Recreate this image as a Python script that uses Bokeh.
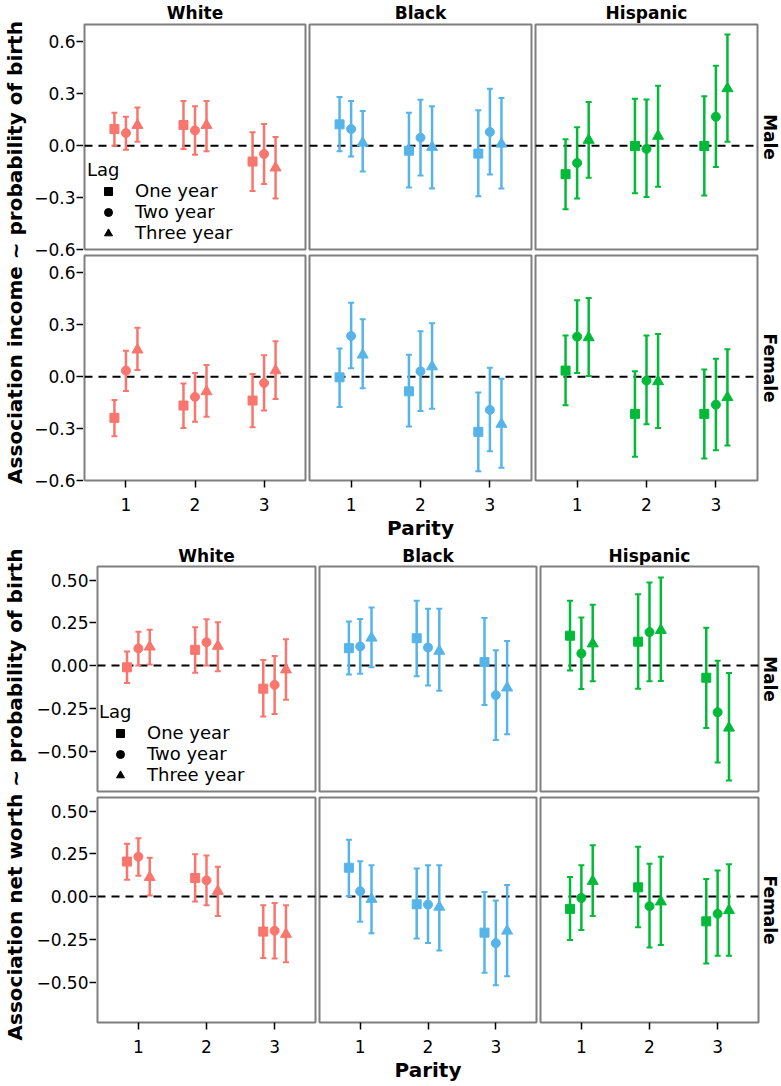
import math
from bokeh.plotting import figure
from bokeh.layouts import row, column
from bokeh.models import (Range1d, Span, Whisker, TeeHead, ColumnDataSource,
                          Legend, LegendItem, FixedTicker, Label, Spacer)
from bokeh.transform import dodge
from bokeh.embed import file_html
from bokeh.resources import INLINE

FONT = "DejaVu Sans"

# ---------------- data ----------------
PARITY = [1, 1, 1, 2, 2, 2, 3, 3, 3]
LAG = ["One year", "Two year", "Three year"] * 3
LAG_LEVELS = ["One year", "Two year", "Three year"]
RACES = ["White", "Black", "Hispanic"]
SEXES = ["Male", "Female"]

# Income ~ probability of birth (order: parity 1..3, lag one/two/three)
INC_MALE_WHITE_EST = [0.096, 0.073, 0.118, 0.119, 0.088, 0.118, -0.092, -0.048, -0.128]
INC_MALE_WHITE_LO = [0.000, -0.023, 0.023, -0.019, -0.052, -0.033, -0.262, -0.221, -0.306]
INC_MALE_WHITE_HI = [0.190, 0.167, 0.220, 0.258, 0.227, 0.258, 0.077, 0.125, 0.050]

INC_MALE_BLACK_EST = [0.123, 0.096, 0.016, -0.029, 0.046, -0.009, -0.046, 0.079, 0.010]
INC_MALE_BLACK_LO = [-0.033, -0.063, -0.150, -0.242, -0.173, -0.248, -0.292, -0.167, -0.248]
INC_MALE_BLACK_HI = [0.281, 0.258, 0.200, 0.190, 0.265, 0.227, 0.204, 0.329, 0.275]

INC_MALE_HISP_EST = [-0.165, -0.100, 0.032, -0.002, -0.019, 0.055, -0.002, 0.167, 0.330]
INC_MALE_HISP_LO = [-0.367, -0.306, -0.185, -0.275, -0.296, -0.238, -0.288, -0.123, 0.023]
INC_MALE_HISP_HI = [0.037, 0.106, 0.252, 0.271, 0.267, 0.346, 0.285, 0.462, 0.642]

INC_FEMALE_WHITE_EST = [-0.238, 0.035, 0.155, -0.167, -0.117, -0.086, -0.138, -0.037, 0.035]
INC_FEMALE_WHITE_LO = [-0.344, -0.083, 0.038, -0.296, -0.260, -0.231, -0.292, -0.196, -0.129]
INC_FEMALE_WHITE_HI = [-0.135, 0.150, 0.283, -0.040, 0.021, 0.067, 0.015, 0.123, 0.204]

INC_FEMALE_BLACK_EST = [-0.004, 0.235, 0.126, -0.085, 0.031, 0.058, -0.319, -0.192, -0.274]
INC_FEMALE_BLACK_LO = [-0.175, 0.048, -0.067, -0.288, -0.198, -0.185, -0.546, -0.431, -0.527]
INC_FEMALE_BLACK_HI = [0.163, 0.427, 0.331, 0.127, 0.262, 0.308, -0.092, 0.052, -0.012]

INC_FEMALE_HISP_EST = [0.035, 0.231, 0.226, -0.215, -0.023, -0.028, -0.215, -0.162, -0.120]
INC_FEMALE_HISP_LO = [-0.165, 0.021, 0.004, -0.463, -0.275, -0.296, -0.473, -0.425, -0.398]
INC_FEMALE_HISP_HI = [0.238, 0.442, 0.454, 0.031, 0.238, 0.246, 0.042, 0.104, 0.158]

# Net worth ~ probability of birth
NW_MALE_WHITE_EST = [-0.010, 0.100, 0.110, 0.092, 0.137, 0.114, -0.135, -0.113, -0.024]
NW_MALE_WHITE_LO = [-0.102, 0.000, 0.006, -0.042, 0.000, -0.033, -0.298, -0.283, -0.200]
NW_MALE_WHITE_HI = [0.083, 0.198, 0.210, 0.225, 0.271, 0.254, 0.033, 0.056, 0.154]

NW_MALE_BLACK_EST = [0.102, 0.112, 0.162, 0.160, 0.106, 0.085, 0.021, -0.173, -0.130]
NW_MALE_BLACK_LO = [-0.052, -0.048, -0.010, -0.062, -0.117, -0.148, -0.231, -0.435, -0.402]
NW_MALE_BLACK_HI = [0.258, 0.273, 0.340, 0.379, 0.333, 0.333, 0.279, 0.090, 0.144]

NW_MALE_HISP_EST = [0.175, 0.071, 0.128, 0.140, 0.196, 0.207, -0.071, -0.273, -0.365]
NW_MALE_HISP_LO = [-0.029, -0.137, -0.092, -0.135, -0.092, -0.090, -0.365, -0.567, -0.673]
NW_MALE_HISP_HI = [0.379, 0.281, 0.356, 0.417, 0.487, 0.515, 0.221, 0.029, -0.044]

NW_FEMALE_WHITE_EST = [0.205, 0.233, 0.113, 0.109, 0.095, 0.032, -0.205, -0.200, -0.220]
NW_FEMALE_WHITE_LO = [0.099, 0.122, 0.006, -0.029, -0.050, -0.114, -0.359, -0.362, -0.384]
NW_FEMALE_WHITE_HI = [0.310, 0.341, 0.227, 0.248, 0.240, 0.174, -0.050, -0.037, -0.050]

NW_FEMALE_BLACK_EST = [0.169, 0.031, -0.015, -0.045, -0.047, -0.061, -0.211, -0.273, -0.201]
NW_FEMALE_BLACK_LO = [0.004, -0.147, -0.215, -0.246, -0.271, -0.316, -0.446, -0.519, -0.467]
NW_FEMALE_BLACK_HI = [0.333, 0.207, 0.184, 0.165, 0.184, 0.184, 0.027, -0.023, 0.068]

NW_FEMALE_HISP_EST = [-0.072, -0.008, 0.090, 0.054, -0.056, -0.030, -0.145, -0.101, -0.081]
NW_FEMALE_HISP_LO = [-0.254, -0.196, -0.114, -0.180, -0.298, -0.283, -0.391, -0.347, -0.347]
NW_FEMALE_HISP_HI = [0.114, 0.184, 0.300, 0.291, 0.192, 0.233, 0.103, 0.153, 0.190]

INCOME_TICKS = [-0.6, -0.3, 0.0, 0.3, 0.6]
INCOME_TICK_LABELS = ["\u22120.6", "\u22120.3", "0.0", "0.3", "0.6"]
WORTH_TICKS = [-0.5, -0.25, 0.0, 0.25, 0.5]
WORTH_TICK_LABELS = ["\u22120.50", "\u22120.25", "0.00", "0.25", "0.50"]
PARITY_TICKS = [1, 2, 3]
PARITY_TICK_LABELS = ["1", "2", "3"]

INCOME_TITLE = "Association income ~ probability of birth"
WORTH_TITLE = "Association net worth ~ probability of birth"
X_TITLE = "Parity"
LEGEND_TITLE = "Lag"

# ---------------- style ----------------
RACE_COLORS = {"White": "#F8766D", "Black": "#56B4E9", "Hispanic": "#00BA38"}
LAG_MARKER = {"One year": "square", "Two year": "circle", "Three year": "triangle"}
LAG_SIZE = {"One year": 9, "Two year": 9, "Three year": 11}
LAG_DODGE = {"One year": -1 / 6, "Two year": 0.0, "Three year": 1 / 6}

INCOME = {
    ("Male", "White"): (INC_MALE_WHITE_EST, INC_MALE_WHITE_LO, INC_MALE_WHITE_HI),
    ("Male", "Black"): (INC_MALE_BLACK_EST, INC_MALE_BLACK_LO, INC_MALE_BLACK_HI),
    ("Male", "Hispanic"): (INC_MALE_HISP_EST, INC_MALE_HISP_LO, INC_MALE_HISP_HI),
    ("Female", "White"): (INC_FEMALE_WHITE_EST, INC_FEMALE_WHITE_LO, INC_FEMALE_WHITE_HI),
    ("Female", "Black"): (INC_FEMALE_BLACK_EST, INC_FEMALE_BLACK_LO, INC_FEMALE_BLACK_HI),
    ("Female", "Hispanic"): (INC_FEMALE_HISP_EST, INC_FEMALE_HISP_LO, INC_FEMALE_HISP_HI),
}
WORTH = {
    ("Male", "White"): (NW_MALE_WHITE_EST, NW_MALE_WHITE_LO, NW_MALE_WHITE_HI),
    ("Male", "Black"): (NW_MALE_BLACK_EST, NW_MALE_BLACK_LO, NW_MALE_BLACK_HI),
    ("Male", "Hispanic"): (NW_MALE_HISP_EST, NW_MALE_HISP_LO, NW_MALE_HISP_HI),
    ("Female", "White"): (NW_FEMALE_WHITE_EST, NW_FEMALE_WHITE_LO, NW_FEMALE_WHITE_HI),
    ("Female", "Black"): (NW_FEMALE_BLACK_EST, NW_FEMALE_BLACK_LO, NW_FEMALE_BLACK_HI),
    ("Female", "Hispanic"): (NW_FEMALE_HISP_EST, NW_FEMALE_HISP_LO, NW_FEMALE_HISP_HI),
}

PANEL_H = 225        # frame height of each facet
GAP_TOP, GAP_BOT = 1, 3   # male row borders
FEM_TOP, FEM_BOT = 3, 62  # female row borders


def base_fig(fw, fh, xr, yr, left, right, top, bottom, x_axis=False, y_axis=False):
    p = figure(frame_width=fw, frame_height=fh, x_range=xr, y_range=yr,
               toolbar_location=None, output_backend="svg",
               x_axis_location="below" if x_axis else None,
               y_axis_location="left" if y_axis else None,
               min_border_left=left, min_border_right=right,
               min_border_top=top, min_border_bottom=bottom,
               background_fill_color="white", border_fill_color="white",
               outline_line_color=None)
    p.grid.visible = False
    return p


def style_axis(ax, ticks, labels, standoff, tick_in=0, tick_out=7):
    ax.ticker = FixedTicker(ticks=ticks)
    ax.major_label_overrides = {t: l for t, l in zip(ticks, labels)}
    ax.axis_line_color = None
    ax.major_tick_line_color = "black"
    ax.major_tick_line_width = 1.5
    ax.major_tick_out = tick_out
    ax.major_tick_in = tick_in
    ax.minor_tick_line_color = None
    ax.major_label_text_font = FONT
    ax.major_label_text_font_size = "17px"
    ax.major_label_text_color = "black"
    ax.major_label_standoff = standoff


def add_text(p, text, x, y, size, angle=0.0):
    p.add_layout(Label(x=x, y=y, text=text, angle=angle, text_font=FONT, text_font_size=size,
                       text_font_style="bold", text_align="center", text_baseline="middle",
                       text_color="black"))


def panel(data, sex, race, yr, left, fw, right, top, bottom, show_x, xlabel=None, legend_loc=None):
    est, lo, hi = data[(sex, race)]
    p = base_fig(fw, PANEL_H, Range1d(0.4, 3.6), Range1d(*yr),
                 left, right, top, bottom, x_axis=show_x)
    p.outline_line_color = "#7F7F7F"
    p.outline_line_width = 2
    col = RACE_COLORS[race]
    p.add_layout(Span(location=0, dimension="width", line_color="black", line_width=2,
                      line_dash="8 6", level="underlay"))
    items = []
    for lag in LAG_LEVELS:
        idx = [i for i, l in enumerate(LAG) if l == lag]
        src = ColumnDataSource(dict(parity=[PARITY[i] for i in idx],
                                    est=[est[i] for i in idx],
                                    lo=[lo[i] for i in idx],
                                    hi=[hi[i] for i in idx]))
        xpos = dodge("parity", LAG_DODGE[lag], range=p.x_range)
        p.add_layout(Whisker(source=src, base=xpos, upper="hi", lower="lo", dimension="height",
                             line_color=col, line_width=2.5,
                             upper_head=TeeHead(size=6, line_color=col, line_width=2),
                             lower_head=TeeHead(size=6, line_color=col, line_width=2)))
        if legend_loc is not None:
            # black key marker, drawn underneath (hidden by) the coloured point; used by the legend
            r = p.scatter(x=xpos, y="est", source=src, marker=LAG_MARKER[lag],
                          size=LAG_SIZE[lag] - 3, color="black")
            items.append(LegendItem(label=lag, renderers=[r]))
        p.scatter(x=xpos, y="est", source=src, marker=LAG_MARKER[lag],
                  size=LAG_SIZE[lag], fill_color=col, line_color=col)
    if show_x:
        style_axis(p.xaxis[0], PARITY_TICKS, PARITY_TICK_LABELS, 10)
        if xlabel:
            ax = p.xaxis[0]
            ax.axis_label = xlabel
            ax.axis_label_text_font = FONT
            ax.axis_label_text_font_size = "20px"
            ax.axis_label_text_font_style = "bold"
            ax.axis_label_text_color = "black"
            ax.axis_label_standoff = 2
    if legend_loc is not None:
        leg = Legend(items=items, title=LEGEND_TITLE, location=legend_loc,
                     background_fill_alpha=0, border_line_color=None, padding=0, margin=0,
                     spacing=0, glyph_width=42, glyph_height=20, label_height=20,
                     label_standoff=6, label_text_font=FONT, label_text_font_size="18px",
                     label_text_color="black",
                     title_text_font=FONT, title_text_font_size="18px", title_text_color="black",
                     title_text_font_style="normal", title_standoff=0)
        p.add_layout(leg)
    return p


def chart(data, yr, yticks, ylabels, ytitle, ax_left, fws, header_h, header_y, title_standoff,
          side_w, legend_loc):
    span = yr[1] - yr[0]
    px_per_unit = PANEL_H / span
    male_shift = span + (GAP_BOT + FEM_TOP) / px_per_unit
    frame_all = PANEL_H * 2 + GAP_BOT + FEM_TOP

    # shared y axis for both facet rows (female row below, male row above)
    ax_fig = base_fig(7, frame_all, Range1d(0, 1), Range1d(yr[0], yr[1] + male_shift),
                      ax_left, 0, header_h + GAP_TOP, FEM_BOT, y_axis=True)
    tick_vals = list(yticks) + [t + male_shift for t in yticks]
    tick_labs = list(ylabels) + list(ylabels)
    style_axis(ax_fig.yaxis[0], tick_vals, tick_labs, 1, tick_in=7, tick_out=0)
    ax = ax_fig.yaxis[0]
    ax.axis_label = ytitle
    ax.axis_label_text_font = FONT
    ax.axis_label_text_font_size = "20px"
    ax.axis_label_text_font_style = "bold"
    ax.axis_label_text_color = "black"
    ax.axis_label_standoff = title_standoff

    cols = []
    lefts = [1, 2, 2]
    for k, race in enumerate(RACES):
        left, fw, right = lefts[k], fws[k], 2
        hdr = base_fig(fw, header_h, Range1d(0, 1), Range1d(0, header_h), left, right, 0, 0)
        add_text(hdr, race, 0.5, header_y, "17px")
        m = panel(data, "Male", race, yr, left, fw, right, GAP_TOP, GAP_BOT, show_x=False,
                  legend_loc=legend_loc if k == 0 else None)
        f = panel(data, "Female", race, yr, left, fw, right, FEM_TOP, FEM_BOT, show_x=True,
                  xlabel=X_TITLE if k == 1 else None)
        cols.append(column(hdr, m, f))

    sm = base_fig(side_w, PANEL_H, Range1d(0, 1), Range1d(0, 1), 0, 0, GAP_TOP, GAP_BOT)
    add_text(sm, "Male", 0.5, 0.5, "17px", angle=-math.pi / 2)
    sf = base_fig(side_w, PANEL_H, Range1d(0, 1), Range1d(0, 1), 0, 0, FEM_TOP, FEM_BOT)
    add_text(sf, "Female", 0.5, 0.5, "17px", angle=-math.pi / 2)
    side = column(Spacer(width=side_w, height=header_h), sm, sf)
    return row(ax_fig, *cols, side)


top = chart(INCOME, (-0.6, 0.7), INCOME_TICKS, INCOME_TICK_LABELS, INCOME_TITLE,
            76, [221, 222, 222], 23, 10.5, 4, 20, (3, 6))
bottom = chart(WORTH, (-0.737, 0.58), WORTH_TICKS, WORTH_TICK_LABELS, WORTH_TITLE,
               89, [218, 217, 218], 23, 10, 6, 19, (2, 6))

layout = column(top, bottom)
open("out.html", "w").write(file_html(layout, INLINE))
